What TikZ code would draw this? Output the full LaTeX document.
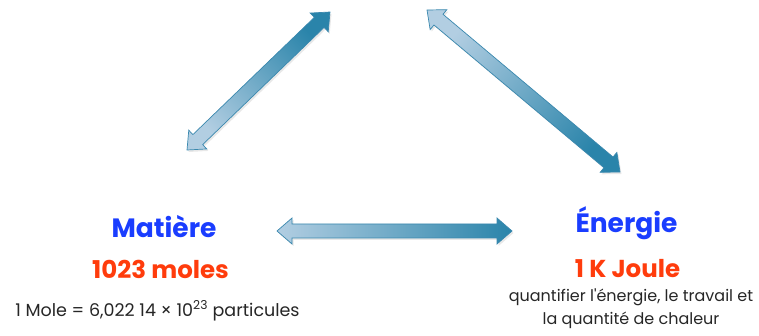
\documentclass[tikz,border=0pt]{standalone}
\usepackage{fontspec}
\setmainfont{Poppins}
\usetikzlibrary{calc,shadows}

\definecolor{bleutitre}{HTML}{1A3DFF}
\definecolor{orangeval}{HTML}{FF3C0C}
\definecolor{flecheclair}{HTML}{B2CEE2}
\definecolor{flechefonce}{HTML}{2A84AA}
\definecolor{flechebord}{HTML}{3A88AE}

\tikzset{
  titre/.style={text=bleutitre, font=\fontsize{26.5}{30}\selectfont\bfseries, anchor=base, inner sep=0pt},
  valeur/.style={text=orangeval, font=\fontsize{24.5}{28}\selectfont\bfseries, anchor=base, inner sep=0pt},
  detail/.style={text=black!85, font=\fontsize{16}{23}\selectfont, inner sep=0pt, align=center},
  fleche/.style={draw=flechebord, line width=0.7pt, line join=miter,
    drop shadow={opacity=0.18, shadow xshift=1.5pt, shadow yshift=-2pt}}
}

% double block arrow: #1 light end, #2 dark end, #3 shading angle
\newcommand{\flecheDouble}[3]{%
  \path[fleche, bottom color=flecheclair, top color=flechefonce, shading angle=#3]
    (#1) -- ($(#1)!15pt!(#2)!13pt!90:(#2)$) -- ($(#1)!15pt!(#2)!7pt!90:(#2)$)
    -- ($(#2)!15pt!(#1)!7pt!-90:(#1)$) -- ($(#2)!15pt!(#1)!13pt!-90:(#1)$)
    -- (#2)
    -- ($(#2)!15pt!(#1)!13pt!90:(#1)$) -- ($(#2)!15pt!(#1)!7pt!90:(#1)$)
    -- ($(#1)!15pt!(#2)!7pt!-90:(#2)$) -- ($(#1)!15pt!(#2)!13pt!-90:(#2)$)
    -- cycle;}

\begin{document}
\begin{tikzpicture}[x=1pt, y=-1pt]
  \useasboundingbox (0,0) rectangle (759,336);

  % Nodes
  \node[titre] (M) at (164,238) {Matière};
  \node[valeur] (Mq) at (160.5,279) {1023 moles};
  \node[anchor=base, inner sep=0pt, text=black!85, font=\fontsize{17.5}{21}\selectfont] (Md) at (157.5,316)
    {1 Mole = 6,022 14 × 10\textsuperscript{23} particules};

  \node[titre] (E) at (626.5,233) {Énergie};
  \node[valeur] (Eq) at (627.5,277) {1 K Joule};
  \node[detail] (Ed) at (631,309) {quantifier l\textquotesingle énergie, le travail et\\la quantité de chaleur};

  % Arrow ends
  \coordinate (M1) at (187,150);
  \coordinate (H1) at (330,12);
  \coordinate (H2) at (427,10);
  \coordinate (E1) at (620,172);
  \coordinate (M2) at (277,231);
  \coordinate (E2) at (512,231);

  % Arrows
  \flecheDouble{M1}{H1}{-46}
  \flecheDouble{H2}{E1}{-130}
  \flecheDouble{M2}{E2}{-90}
\end{tikzpicture}
\end{document}
